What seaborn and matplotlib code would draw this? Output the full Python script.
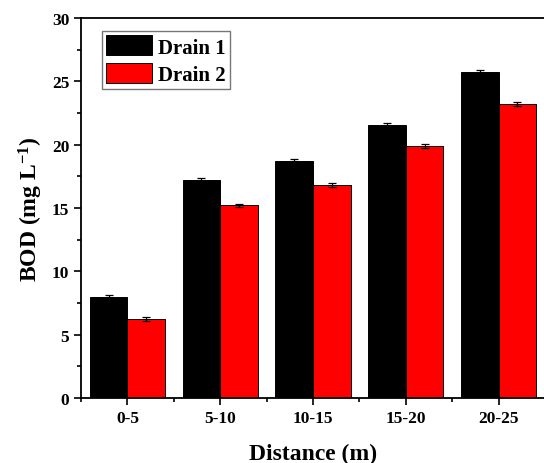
import pandas as pd
import numpy as np
import seaborn as sns
import matplotlib.pyplot as plt
from matplotlib.ticker import MultipleLocator, FixedLocator

# values
distance = ['0-5', '5-10', '10-15', '15-20', '20-25']
drain1 = [8.0, 17.25, 18.75, 21.55, 25.75]
drain2 = [6.25, 15.2, 16.8, 19.9, 23.2]
drain1_err = [0.15, 0.12, 0.1, 0.15, 0.12]
drain2_err = [0.15, 0.15, 0.15, 0.15, 0.15]

df = pd.DataFrame({
    'distance': distance * 2,
    'bod': drain1 + drain2,
    'err': drain1_err + drain2_err,
    'drain': ['Drain 1'] * 5 + ['Drain 2'] * 5,
})

sns.set_style('ticks')
plt.rcParams['font.family'] = ['Liberation Serif', 'DejaVu Serif']
plt.rcParams['font.weight'] = 'bold'
plt.rcParams['text.color'] = 'black'
plt.rcParams['axes.labelcolor'] = 'black'
plt.rcParams['xtick.color'] = 'black'
plt.rcParams['ytick.color'] = 'black'
plt.rcParams['mathtext.fontset'] = 'custom'
plt.rcParams['mathtext.bf'] = 'Liberation Serif:bold'
plt.rcParams['mathtext.rm'] = 'Liberation Serif:bold'
plt.rcParams['mathtext.default'] = 'bf'

fig = plt.figure(figsize=(5.44, 4.64), dpi=100)
ax = fig.add_axes([0.149, 0.14, 0.853, 0.819])

sns.barplot(data=df, x='distance', y='bod', hue='drain',
            palette=['black', '#ff0000'], width=0.81, errorbar=None,
            edgecolor='black', linewidth=0.7, saturation=1, ax=ax)

# error bars on each bar centre
for bar, (_, row) in zip(ax.patches, df.iterrows()):
    ax.errorbar(bar.get_x() + bar.get_width() / 2, bar.get_height(),
                yerr=row['err'], fmt='none', ecolor='black',
                elinewidth=0.9, capsize=3, capthick=0.9)

ax.set_xlim(-0.5, 4.5)
ax.set_ylim(0, 30)
ax.yaxis.set_major_locator(MultipleLocator(5))
ax.yaxis.set_minor_locator(MultipleLocator(2.5))
ax.xaxis.set_minor_locator(FixedLocator(np.arange(-0.5, 5, 1)))

for side in ['left', 'bottom', 'top']:
    ax.spines[side].set_visible(True)
    ax.spines[side].set_linewidth(1.3)
    ax.spines[side].set_color('black')
ax.spines['right'].set_visible(False)

ax.tick_params(which='major', direction='out', length=5, width=1.2,
               labelsize=12.5, colors='black')
ax.tick_params(which='minor', direction='out', length=3, width=1.2)
for lab in ax.get_xticklabels() + ax.get_yticklabels():
    lab.set_fontweight('bold')

ax.set_xlabel('Distance (m)', fontsize=17, fontweight='bold', labelpad=12)
ax.set_ylabel('BOD (mg L$^{-1}$)', fontsize=17, fontweight='bold', labelpad=5)

leg = ax.legend(loc='upper left', bbox_to_anchor=(0.045, 0.965), fontsize=15,
                frameon=True, fancybox=False, edgecolor='#555555',
                handlelength=2.2, handleheight=1.1, borderpad=0.2,
                labelspacing=0.25, handletextpad=0.3, borderaxespad=0)
leg.get_frame().set_linewidth(1.0)
for t in leg.get_texts():
    t.set_fontweight('bold')
    t.set_color('black')

plt.savefig('out.png', dpi=100)
